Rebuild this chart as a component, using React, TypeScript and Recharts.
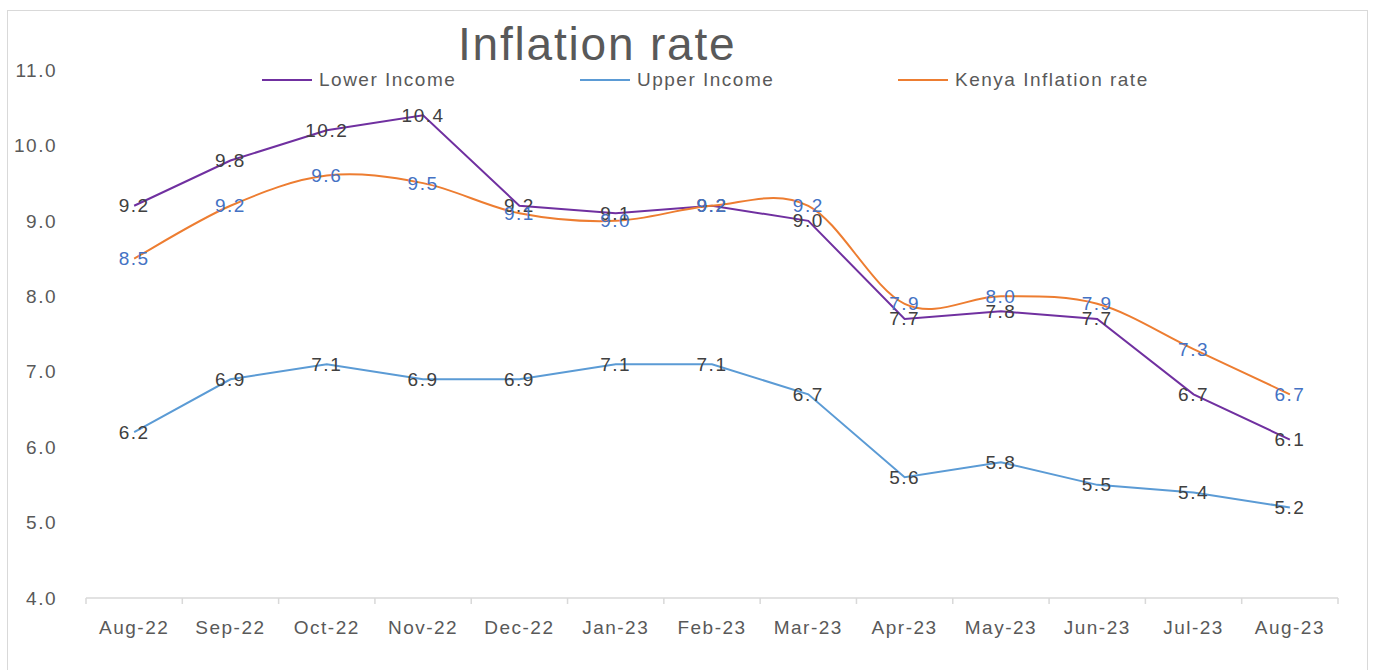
import React from "react";
import { LineChart, Line, XAxis, YAxis, Legend, LabelList } from "recharts";

const months = ["Aug-22", "Sep-22", "Oct-22", "Nov-22", "Dec-22", "Jan-23", "Feb-23", "Mar-23", "Apr-23", "May-23", "Jun-23", "Jul-23", "Aug-23"];
const lowerIncome = [9.2, 9.8, 10.2, 10.4, 9.2, 9.1, 9.2, 9.0, 7.7, 7.8, 7.7, 6.7, 6.1];
const upperIncome = [6.2, 6.9, 7.1, 6.9, 6.9, 7.1, 7.1, 6.7, 5.6, 5.8, 5.5, 5.4, 5.2];
const kenyaRate = [8.5, 9.2, 9.6, 9.5, 9.1, 9.0, 9.2, 9.2, 7.9, 8.0, 7.9, 7.3, 6.7];
const yTicks = [4, 5, 6, 7, 8, 9, 10, 11];

const data = months.map((m, i) => ({
  month: m,
  lower: lowerIncome[i],
  upper: upperIncome[i],
  kenya: kenyaRate[i],
}));

const FONT = "'Liberation Sans', Arial, sans-serif";
const GREY = "#595959";

// excel-like smoothing (catmull-rom as bezier)
const excelSmooth = (context: any) => {
  let pts: number[][] = [];
  return {
    areaStart() {},
    areaEnd() {},
    lineStart() {
      pts = [];
    },
    lineEnd() {
      if (!pts.length) return;
      context.moveTo(pts[0][0], pts[0][1]);
      for (let i = 0; i < pts.length - 1; i++) {
        const p0 = pts[i - 1] || pts[i];
        const p1 = pts[i];
        const p2 = pts[i + 1];
        const p3 = pts[i + 2] || p2;
        context.bezierCurveTo(
          p1[0] + (p2[0] - p0[0]) / 6,
          p1[1] + (p2[1] - p0[1]) / 6,
          p2[0] - (p3[0] - p1[0]) / 6,
          p2[1] - (p3[1] - p1[1]) / 6,
          p2[0],
          p2[1]
        );
      }
    },
    point(x: number, y: number) {
      pts.push([+x, +y]);
    },
  };
};

const makeLabel = (color: string) => (props: any) => {
  const { x, y, value } = props;
  return (
    <text
      x={x}
      y={y}
      textAnchor="middle"
      dominantBaseline="central"
      fill={color}
      fontSize={19}
      fontFamily={FONT}
      letterSpacing={1.5}
    >
      {Number(value).toFixed(1)}
    </text>
  );
};

const XTick = (props: any) => {
  const { x, y, payload, index, width, visibleTicksCount } = props;
  const half = width / visibleTicksCount / 2;
  return (
    <g>
      <line x1={x - half} y1={y} x2={x - half} y2={y + 6} stroke="#d9d9d9" strokeWidth={1.5} />
      {index === visibleTicksCount - 1 && (
        <line x1={x + half} y1={y} x2={x + half} y2={y + 6} stroke="#d9d9d9" strokeWidth={1.5} />
      )}
      <text x={x} y={y + 36} textAnchor="middle" fill={GREY} fontSize={19} fontFamily={FONT} letterSpacing={1.5}>
        {payload.value}
      </text>
    </g>
  );
};

const legendItems = [
  { name: "Lower Income", color: "#7030A0" },
  { name: "Upper Income", color: "#5B9BD5" },
  { name: "Kenya Inflation rate", color: "#ED7D31" },
];

const LegendContent = () => (
  <div style={{ display: "flex", fontFamily: FONT, fontSize: 19, color: GREY, letterSpacing: 1.5 }}>
    {legendItems.map((it) => (
      <div key={it.name} style={{ width: 318, display: "flex", alignItems: "center", height: 24 }}>
        <span style={{ display: "inline-block", width: 50, height: 2, background: it.color, marginRight: 7 }} />
        <span>{it.name}</span>
      </div>
    ))}
  </div>
);

export default function App() {
  return (
    <div
      style={{
        position: "absolute",
        left: 7,
        top: 10,
        width: 1359,
        height: 668,
        border: "1px solid #d9d9d9",
        background: "#fff",
      }}
    >
      <div
        style={{
          position: "absolute",
          left: 450,
          top: 10,
          fontFamily: FONT,
          fontSize: 46,
          lineHeight: "46px",
          letterSpacing: 1.8,
          color: GREY,
          whiteSpace: "nowrap",
        }}
      >
        Inflation rate
      </div>
      <LineChart width={1359} height={660} data={data} margin={{ top: 59, right: 29, bottom: 23, left: 18 }}>
        <XAxis
          dataKey="month"
          scale="band"
          stroke="#d9d9d9"
          strokeWidth={1.5}
          tickLine={false}
          tickSize={0}
          tickMargin={0}
          height={50}
          interval={0}
          tick={<XTick />}
        />
        <YAxis
          domain={[4, 11]}
          ticks={yTicks}
          axisLine={false}
          tickLine={false}
          tickSize={0}
          tickMargin={29}
          width={60}
          tickFormatter={(v: number) => v.toFixed(1)}
          tick={{ fill: GREY, fontSize: 19, fontFamily: FONT, letterSpacing: 1.5 }}
        />
        <Legend
          verticalAlign="middle"
          align="center"
          content={<LegendContent />}
          wrapperStyle={{ position: "absolute", top: 57, left: 254, width: 1000 }}
        />
        <Line
          dataKey="lower"
          name="Lower Income"
          stroke="#7030A0"
          strokeWidth={2}
          dot={false}
          type="linear"
          isAnimationActive={false}
        >
          <LabelList dataKey="lower" content={makeLabel("#404040")} />
        </Line>
        <Line
          dataKey="upper"
          name="Upper Income"
          stroke="#5B9BD5"
          strokeWidth={2}
          dot={false}
          type="linear"
          isAnimationActive={false}
        >
          <LabelList dataKey="upper" content={makeLabel("#404040")} />
        </Line>
        <Line
          dataKey="kenya"
          name="Kenya Inflation rate"
          stroke="#ED7D31"
          strokeWidth={2}
          dot={false}
          type={excelSmooth as any}
          isAnimationActive={false}
        >
          <LabelList dataKey="kenya" content={makeLabel("#4472C4")} />
        </Line>
      </LineChart>
    </div>
  );
}
